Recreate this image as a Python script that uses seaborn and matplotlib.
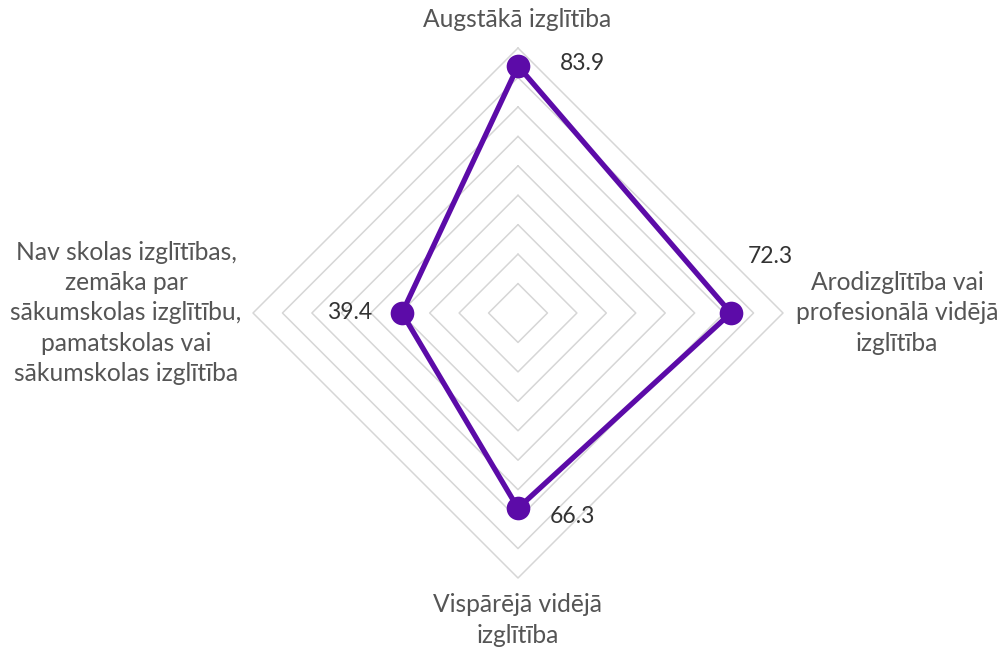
import numpy as np
import pandas as pd
import matplotlib
matplotlib.use("Agg")
import matplotlib.pyplot as plt
import seaborn as sns

# dati
kategorijas = [
    "Augstākā izglītība",
    "Arodizglītība vai\nprofesionālā vidējā\nizglītība",
    "Vispārējā vidējā\nizglītība",
    "Nav skolas izglītības,\nzemāka par\nsākumskolas izglītību,\npamatskolas vai\nsākumskolas izglītība",
]
vertibas = [83.9, 72.3, 66.3, 39.4]
lenki_grad = [90, 0, -90, 180]
rinki = [10, 20, 30, 40, 50, 60, 70, 80, 90]

krasa = "#5c0ba8"

sns.set_theme(style="white")
plt.rcParams["font.family"] = ["Lato", "DejaVu Sans"]

fig = plt.figure(figsize=(10.03, 6.48), dpi=100)
ax = fig.add_axes([0, 0, 1, 1])

px = 265 / 90  # pikseli uz vienību
ax.set_xlim(-518 / px, 485 / px)
ax.set_ylim(-335 / px, 313 / px)
ax.axis("off")

lenki = np.deg2rad(lenki_grad)

# režģa rombi
for r in rinki:
    gx = list(r * np.cos(lenki)) + [r * np.cos(lenki[0])]
    gy = list(r * np.sin(lenki)) + [r * np.sin(lenki[0])]
    ax.plot(gx, gy, color="#d6d6d6", lw=1.1, zorder=1)

df = pd.DataFrame({
    "x": np.array(vertibas) * np.cos(lenki),
    "y": np.array(vertibas) * np.sin(lenki),
})
df_slegts = pd.concat([df, df.iloc[[0]]], ignore_index=True)

sns.lineplot(data=df_slegts, x="x", y="y", sort=False, estimator=None,
             color=krasa, lw=3.8, ax=ax, zorder=3)
sns.scatterplot(data=df, x="x", y="y", color=krasa, s=290,
                edgecolor=krasa, linewidth=0, ax=ax, zorder=4)

# vērtību uzraksti
nobides = [(64, 2), (39, 56), (54, -8), (-52, 0)]
for (x, y), v, (dx, dy) in zip(df[["x", "y"]].values, vertibas, nobides):
    ax.annotate(f"{v:.1f}", (x, y), xytext=(dx, dy), textcoords="offset pixels",
                ha="center", va="center", fontsize=16.5, color="#333333")

# kategoriju uzraksti
poz = [(-1, 293), (379, 0), (0, -307), (-392, 0)]
for (lx, ly), k in zip(poz, kategorijas):
    ax.text(lx / px, ly / px, k, ha="center", va="center", fontsize=17.7,
            color="#555555", linespacing=1.38, multialignment="center")

ax.set_xlabel("")
ax.set_ylabel("")
fig.savefig("out.png", dpi=100)
